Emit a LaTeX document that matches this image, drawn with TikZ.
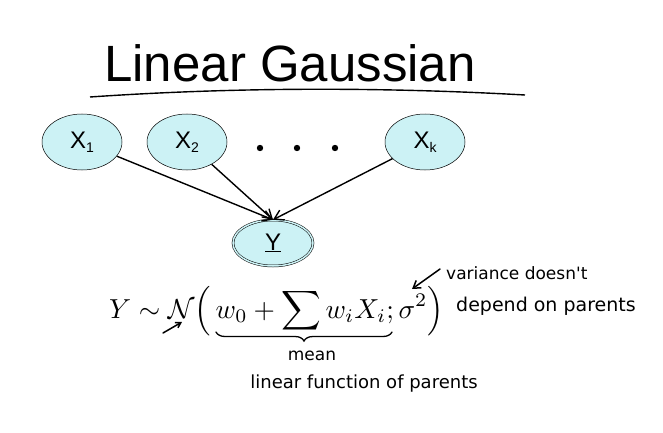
\documentclass[tikz,border=0pt]{standalone}
\usepackage{fontspec}
\setsansfont{Liberation Sans}
\newfontfamily\handfont{DejaVu Sans}
\usetikzlibrary{arrows.meta,decorations.pathreplacing,shapes.geometric}
\definecolor{nodefill}{RGB}{204,242,245}
\begin{document}
\begin{tikzpicture}[x=1pt,y=-1pt,
  var/.style={ellipse,draw=black,line width=0.5pt,fill=nodefill,minimum width=80pt,minimum height=56pt,inner sep=0pt,font=\sffamily\fontsize{24}{26}\selectfont},
  edge/.style={line width=1.4pt,-{Straight Barb[length=9pt,width=11pt,line width=1.4pt]}},
  hand/.style={font=\handfont\fontsize{15}{17}\selectfont,inner sep=0pt},
  handline/.style={line width=1.5pt,line cap=round}]
\useasboundingbox (0,0) rectangle (663,433);
\fill[white] (0,0) rectangle (663,433);
% title
\node[inner sep=0pt,anchor=base] (title) at (290,82) {\sffamily\fontsize{51}{55}\selectfont Linear Gaussian};
\coordinate (ulA) at (90,97);
\coordinate (ulB) at (525,95);
\draw[line width=1.4pt] (ulA) .. controls (250,86) and (400,88) .. (ulB);
% nodes
\node[var] (x1) at (82,142) {X\raisebox{-0.35ex}{\fontsize{14}{14}\selectfont 1}};
\node[var] (x2) at (187,142) {X\raisebox{-0.35ex}{\fontsize{14}{14}\selectfont 2}};
\node[var] (xk) at (425,142) {X\raisebox{-0.35ex}{\fontsize{14}{14}\selectfont k}};
\node[var,double=nodefill,double distance=1.5pt,minimum height=46pt] (y) at (273,243) {\underline{Y}};
\foreach \xx [count=\i] in {260,297,335} \fill (\xx,148) circle (3.2pt) coordinate (dot\i);
% edges
\draw[edge] (x1) -- (y.north);
\draw[edge] (x2) -- (y.north);
\draw[edge] (xk) -- (y.north);
% formula
\node[inner sep=0pt,anchor=base west] (formula) at (109,318) {\scalebox{2.75}{$\displaystyle Y\sim\mathcal{N}\Bigl(\,w_0+\displaystyle\sum w_iX_i;\sigma^2\Bigr)$}};
\coordinate (brA) at (216,332);
\coordinate (brB) at (392,332);
\draw[handline,line width=1.3pt,decorate,decoration={brace,mirror,amplitude=9pt}] (brA) -- (brB);
\node[hand,font=\handfont\fontsize{17}{19}\selectfont] (mean) at (312,356) {mean};
\node[hand,font=\handfont\fontsize{18}{20}\selectfont] (lin) at (364,384) {linear function of parents};
\node[hand,anchor=west,font=\handfont\fontsize{17}{19}\selectfont] (var1) at (446,273) {variance doesn't};
\node[hand,anchor=west,font=\handfont\fontsize{19}{21}\selectfont] (var2) at (456,306) {depend on parents};
% annotation arrows
\coordinate (sa) at (440,269);
\coordinate (sb) at (412,289);
\draw[handline,-{Straight Barb[length=7pt,width=9pt,line width=1.5pt]}] (sa) -- (sb);
\coordinate (na) at (163,333);
\coordinate (nb) at (182,322);
\draw[handline,-{Straight Barb[length=5pt,width=6pt,line width=1.5pt]}] (na) -- (nb);
\end{tikzpicture}
\end{document}
